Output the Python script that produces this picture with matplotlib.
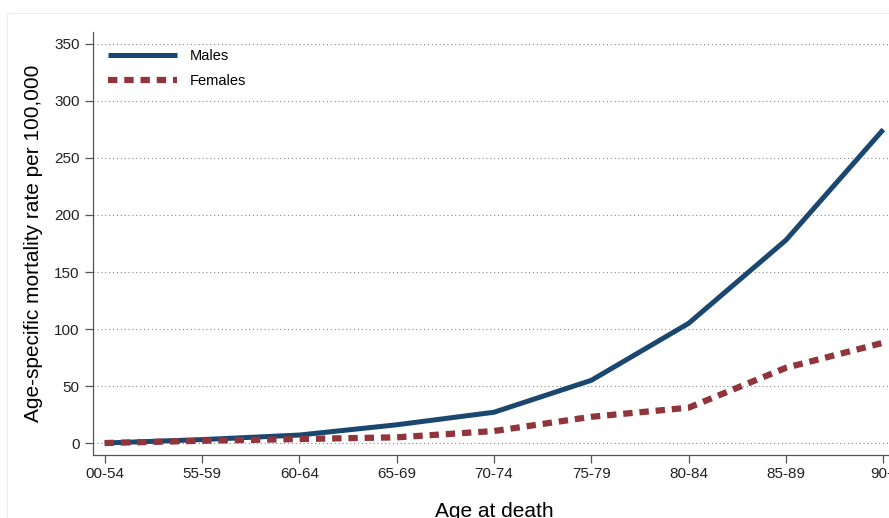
import matplotlib.pyplot as plt
from matplotlib.patches import Rectangle
plt.rcParams['font.family'] = ['Liberation Sans', 'DejaVu Sans']

# data
ages = ['00-54', '55-59', '60-64', '65-69', '70-74', '75-79', '80-84', '85-89', '90+']
males = [0, 3, 7, 16, 27, 55, 105, 178, 275]
females = [0, 2, 3.5, 5, 10.5, 23, 31, 66, 88]

fig = plt.figure(figsize=(8.89, 5.18), dpi=100)
# light frame of the graph region
fig.patches.append(Rectangle((7/889, -0.1), 1.2, (518-13)/518 + 0.1, transform=fig.transFigure,
                             fill=False, edgecolor='#eeeeee', linewidth=0.8))
ax = fig.add_axes([93/889, 63/518, 802/889, 423/518])

x = list(range(len(ages)))
ax.plot(x, males, color='#1a476f', linewidth=3.6, label='Males', solid_capstyle='butt')
ax.plot(x, females, color='#90353b', linewidth=4.5, linestyle=(0, (1.5, 1.1)),
        label='Females', dash_capstyle='butt')

ax.set_xlim(-0.12, 8.12)
ax.set_ylim(-10.5, 360.5)
ax.set_xticks(x)
ax.set_xticklabels(ages)
ax.set_yticks(range(0, 351, 50))
ax.yaxis.grid(True, linestyle=(0, (1, 2.5)), color='#888888', linewidth=0.8)
ax.set_axisbelow(True)

for s in ['top', 'right']:
    ax.spines[s].set_visible(False)
for s in ['left', 'bottom']:
    ax.spines[s].set_color('#555555')
    ax.spines[s].set_linewidth(0.9)
ax.tick_params(axis='both', direction='out', length=6, width=0.9, color='#555555',
               labelsize=11, labelcolor='#222222')
ax.tick_params(axis='x', pad=3)

ax.set_ylabel('Age-specific mortality rate per 100,000', fontsize=15, labelpad=8)
ax.set_xlabel('Age at death', fontsize=15, labelpad=15)

ax.legend(loc='upper left', frameon=False, fontsize=10.5, handlelength=4.7,
          handletextpad=0.9, labelspacing=0.75, borderaxespad=0.3,
          bbox_to_anchor=(0.006, 0.984))

fig.savefig('out.png', dpi=100)
